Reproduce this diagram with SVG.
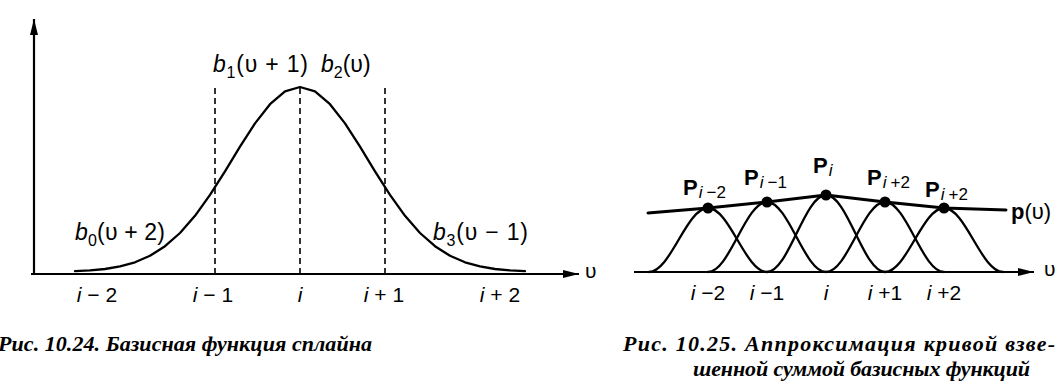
<svg xmlns="http://www.w3.org/2000/svg" width="1058" height="386" viewBox="0 0 1058 386">
<style>
.ax{stroke:#000;stroke-width:2.2;fill:none}
.cv{stroke:#000;stroke-width:2.3;fill:none;stroke-linejoin:round;stroke-linecap:round}
.ds{stroke:#000;stroke-width:1.6;stroke-dasharray:6 4;fill:none}
.lb{font-family:"Liberation Sans",Arial,sans-serif;font-size:21px;fill:#000}
.bl{font-size:23px}
.it{font-style:italic}
.sb{font-size:16px}
.sp{font-size:17px}
.bp{font-family:"Liberation Sans",Arial,sans-serif;font-weight:bold;font-size:22px;fill:#000}
.cap{font-family:"Liberation Serif","Times New Roman",serif;font-weight:bold;font-style:italic;font-size:22px;fill:#000}
</style>
<defs>
<marker id="ah" viewBox="0 0 16 10" refX="16" refY="5" markerWidth="16" markerHeight="10" markerUnits="userSpaceOnUse" orient="auto">
<path d="M0,1 L16,5 L0,9 Z" fill="#000"/>
</marker>
</defs>
<rect width="1058" height="386" fill="#fff"/>

<g id="left-plot">
<g id="left-axes">
<line class="ax" x1="34" y1="274" x2="34" y2="19" marker-end="url(#ah)"/>
<line class="ax" x1="31" y1="274" x2="579" y2="274" marker-end="url(#ah)"/>
</g>
<g id="left-dashes">
<line class="ds" x1="215" y1="88" x2="215" y2="274"/>
<line class="ds" x1="300" y1="88" x2="300" y2="274"/>
<line class="ds" x1="385" y1="88" x2="385" y2="274"/>
</g>
<g id="basis-curve">
<polyline class="cv" points="75,271.2 90,270.4 105,269 120,266.4 135,262.3 150,255.8 165,246.2 180,233 195,215.8 210,194.9 225,171.3 240,146.6 255,123.4 270,104.2 285,91.4 300,87 315,91.4 330,104.2 345,123.4 360,146.6 375,171.3 390,194.9 405,215.8 420,233 435,246.2 450,255.8 465,262.3 480,266.4 495,269 510,270.4 525,271.2"/>
</g>
<g id="left-labels" class="lb">
<text class="bl" x="213" y="72" textLength="95" lengthAdjust="spacing"><tspan class="it">b</tspan><tspan class="sb" dy="6">1</tspan><tspan dy="-6">(υ + 1)</tspan></text>
<text class="bl" x="321" y="72"><tspan class="it">b</tspan><tspan class="sb" dy="6">2</tspan><tspan dy="-6">(υ)</tspan></text>
<text class="bl" x="75" y="240" textLength="90" lengthAdjust="spacing"><tspan class="it">b</tspan><tspan class="sb" dy="6">0</tspan><tspan dy="-6">(υ + 2)</tspan></text>
<text class="bl" x="433" y="240" textLength="95" lengthAdjust="spacing"><tspan class="it">b</tspan><tspan class="sb" dy="6">3</tspan><tspan dy="-6">(υ − 1)</tspan></text>
<text x="585" y="278">υ</text>
<text x="97" y="302" text-anchor="middle"><tspan class="it">i</tspan> − 2</text>
<text x="213" y="302" text-anchor="middle"><tspan class="it">i</tspan> − 1</text>
<text x="300" y="302" text-anchor="middle" class="it">i</text>
<text x="384" y="302" text-anchor="middle"><tspan class="it">i</tspan> + 1</text>
<text x="500" y="302" text-anchor="middle"><tspan class="it">i</tspan> + 2</text>
</g>
<text id="caption-1024" class="cap" x="-2" y="351" textLength="374" lengthAdjust="spacing">Рис. 10.24. Базисная функция сплайна</text>
</g>

<g id="right-plot">
<line class="ax" x1="634" y1="272" x2="1034" y2="272" marker-end="url(#ah)"/>
<g id="bumps">
<path class="cv" d="M649,272 C670.5,272 686.5,208 708,208 C729.5,208 745.5,272 767,272"/>
<path class="cv" d="M708,272 C729.5,272 745.5,202 767,202 C788.5,202 804.5,272 826,272"/>
<path class="cv" d="M767,272 C788.5,272 804.5,195 826,195 C847.5,195 863.5,272 885,272"/>
<path class="cv" d="M826,272 C847.5,272 863.5,202 885,202 C906.5,202 922.5,272 944,272"/>
<path class="cv" d="M885,272 C906.5,272 922.5,208 944,208 C965.5,208 981.5,272 1003,272"/>
</g>
<polyline id="p-curve" class="cv" style="stroke-width:3" points="648,213 708,208 767,202 826,195 885,202 944,208 1006,210"/>
<g id="control-points" fill="#000">
<circle cx="708" cy="208" r="5.5"/>
<circle cx="767" cy="202" r="5.5"/>
<circle cx="826" cy="195" r="5.5"/>
<circle cx="885" cy="202" r="5.5"/>
<circle cx="944" cy="208" r="5.5"/>
</g>
<g id="right-labels" class="lb">
<text x="683" y="195"><tspan class="bp">P</tspan><tspan class="sp it" dy="3" dx="1">i</tspan><tspan class="sp" dx="4">−2</tspan></text>
<text x="744" y="185"><tspan class="bp">P</tspan><tspan class="sp it" dy="3" dx="1">i</tspan><tspan class="sp" dx="4">−1</tspan></text>
<text x="813" y="173"><tspan class="bp">P</tspan><tspan class="sp it" dy="3" dx="1">i</tspan></text>
<text x="867" y="185"><tspan class="bp">P</tspan><tspan class="sp it" dy="3" dx="1">i</tspan><tspan class="sp" dx="4">+2</tspan></text>
<text x="925" y="197"><tspan class="bp">P</tspan><tspan class="sp it" dy="3" dx="1">i</tspan><tspan class="sp" dx="4">+2</tspan></text>
<text x="1011" y="219" font-size="22"><tspan class="bp">p</tspan>(υ)</text>
<text x="1044" y="276">υ</text>
<text x="708" y="300" text-anchor="middle"><tspan class="it">i</tspan> −2</text>
<text x="767" y="300" text-anchor="middle"><tspan class="it">i</tspan> −1</text>
<text x="826" y="300" text-anchor="middle" class="it">i</text>
<text x="885" y="300" text-anchor="middle"><tspan class="it">i</tspan> +1</text>
<text x="944" y="300" text-anchor="middle"><tspan class="it">i</tspan> +2</text>
</g>
<text id="caption-1025-a" class="cap" x="623" y="351" textLength="432" lengthAdjust="spacing">Рис. 10.25. Аппроксимация кривой взве-</text>
<text id="caption-1025-b" class="cap" x="693" y="376" textLength="337" lengthAdjust="spacing">шенной суммой базисных функций</text>
</g>
</svg>
